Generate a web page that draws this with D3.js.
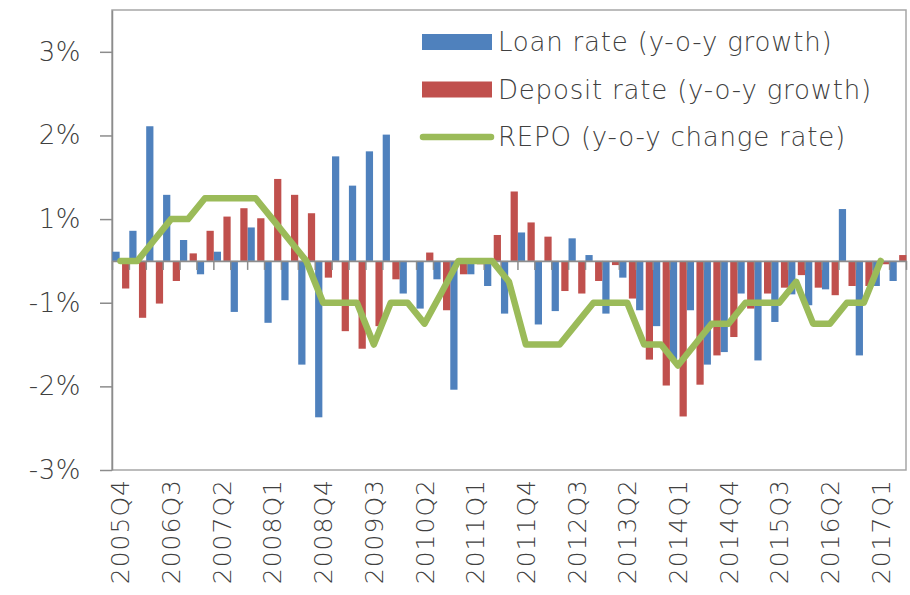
<!DOCTYPE html>
<html>
<head>
<meta charset="utf-8">
<script src="https://cdn.jsdelivr.net/npm/d3@7"></script>
<style>
  body { margin: 0; background: #fff; }
  text { font-family: "DejaVu Sans", sans-serif; font-weight: 200; fill: #404040; }
</style>
</head>
<body>
<script>
var w = 910;
var h = 595;

//quarters on the category axis
var quarters = [
  "2005Q4",
  "2006Q1","2006Q2","2006Q3","2006Q4",
  "2007Q1","2007Q2","2007Q3","2007Q4",
  "2008Q1","2008Q2","2008Q3","2008Q4",
  "2009Q1","2009Q2","2009Q3","2009Q4",
  "2010Q1","2010Q2","2010Q3","2010Q4",
  "2011Q1","2011Q2","2011Q3","2011Q4",
  "2012Q1","2012Q2","2012Q3","2012Q4",
  "2013Q1","2013Q2","2013Q3","2013Q4",
  "2014Q1","2014Q2","2014Q3","2014Q4",
  "2015Q1","2015Q2","2015Q3","2015Q4",
  "2016Q1","2016Q2","2016Q3","2016Q4",
  "2017Q1","2017Q2"
];

//labels shown under the chart (every third quarter)
var xTickLabels = ["2005Q4","2006Q3","2007Q2","2008Q1","2008Q4","2009Q3","2010Q2","2011Q1",
                   "2011Q4","2012Q3","2013Q2","2014Q1","2014Q4","2015Q3","2016Q2","2017Q1"];

//loan rate, y-o-y growth (percentage points)
var loanRate = [
  0.11,
  0.36, 1.61, 0.79, 0.25,
  -0.16, 0.11, -0.61, 0.40,
  -0.74, -0.47, -1.24, -1.87,
  1.25, 0.90, 1.31, 1.51,
  -0.39, -0.57, -0.22, -1.54,
  -0.16, -0.30, -0.63, 0.34,
  -0.76, -0.60, 0.27, 0.07,
  -0.63, -0.20, -0.59, -0.78,
  -1.18, -0.59, -1.24, -1.09,
  -0.39, -1.19, -0.73, -0.40,
  -0.53, -0.34, 0.62, -1.13,
  -0.30, -0.24
];

//deposit rate, y-o-y growth
var depositRate = [
  -0.33,
  -0.68, -0.51, -0.24, 0.09,
  0.36, 0.53, 0.63, 0.51,
  0.98, 0.79, 0.57, -0.20,
  -0.84, -1.05, -0.78, -0.22,
  0.00, 0.10, -0.59, -0.16,
  -0.04, 0.31, 0.83, 0.46,
  0.29, -0.36, -0.39, -0.24,
  -0.05, -0.45, -1.18, -1.49,
  -1.86, -1.48, -1.13, -0.91,
  -0.57, -0.39, -0.32, -0.17,
  -0.32, -0.41, -0.30, -0.30,
  -0.04, 0.07
];

//REPO, y-o-y change (no value for the last quarter)
var repoRate = [
  0,
  0, 0.25, 0.5, 0.5,
  0.75, 0.75, 0.75, 0.75,
  0.5, 0.25, 0, -0.5,
  -0.5, -0.5, -1.0, -0.5,
  -0.5, -0.75, -0.38, 0,
  0, 0, -0.25, -1.0,
  -1.0, -1.0, -0.75, -0.5,
  -0.5, -0.5, -1.0, -1.0,
  -1.25, -1.0, -0.75, -0.75,
  -0.5, -0.5, -0.5, -0.25,
  -0.75, -0.75, -0.5, -0.5,
  0, null
];

//value axis: ticks sit on half percents, labels are rounded like the original
var yTicks = [-2.5, -1.5, -0.5, 0.5, 1.5, 2.5];
var yTickLabels = ["-3%", "-2%", "-1%", "1%", "2%", "3%"];

var seriesNames = ["Loan rate (y-o-y growth)", "Deposit rate (y-o-y growth)", "REPO (y-o-y change rate)"];
var colors = ["#4f81bd", "#c0504d", "#9bbb59"];

var plotLeft = 112, plotRight = 906, plotTop = 10, plotBottom = 470;

var x = d3.scaleBand()
          .domain(quarters)
          .range([plotLeft, plotRight])
          .padding(0);

var bw = x.bandwidth();

var x1 = d3.scaleBand()
           .domain(["loan", "deposit"])
           .range([0.4, bw + 0.4])
           .paddingInner(0.25)
           .paddingOuter(0);

//boundaries between quarters, for the small ticks on the zero line
var xEdge = d3.scaleLinear()
              .domain([0, quarters.length])
              .range([plotLeft, plotRight]);

var y = d3.scaleLinear()
          .domain([-2.5, 3])
          .range([plotBottom, plotTop]);

//Create SVG element
var svg = d3.select("body")
            .append("svg")
            .attr("width", w)
            .attr("height", h);

svg.append("rect")
   .attr("width", w)
   .attr("height", h)
   .attr("fill", "#fff");

//plot frame
svg.append("rect")
   .attr("x", plotLeft)
   .attr("y", plotTop)
   .attr("width", plotRight - plotLeft)
   .attr("height", plotBottom - plotTop)
   .attr("fill", "none")
   .style("stroke", "#a6a6a6")
   .style("stroke-width", 1.5);

//value axis
var yAxis = svg.append("g")
               .attr("transform", "translate(" + plotLeft + ",0)")
               .call(d3.axisLeft(y)
                       .tickValues(yTicks)
                       .tickFormat(function(d, i) { return yTickLabels[i]; })
                       .tickSize(12)
                       .tickSizeOuter(0)
                       .tickPadding(19));

yAxis.select(".domain").style("stroke", "#8c8c8c").style("stroke-width", 1.5);
yAxis.selectAll(".tick line").style("stroke", "#8c8c8c").style("stroke-width", 1.5);
yAxis.selectAll("text")
     .style("font-size", "26px")
     .style("letter-spacing", "0.5px")
     .attr("fill", "#404040");

//loan bars
svg.selectAll("rect.loan")
   .data(loanRate)
   .enter()
   .append("rect")
   .attr("class", "loan")
   .attr("x", function(d, i) { return x(quarters[i]) + x1("loan"); })
   .attr("width", x1.bandwidth())
   .attr("y", function(d) { return Math.min(y(d), y(0)); })
   .attr("height", function(d) { return Math.abs(y(d) - y(0)); })
   .style("fill", colors[0]);

//deposit bars
svg.selectAll("rect.deposit")
   .data(depositRate)
   .enter()
   .append("rect")
   .attr("class", "deposit")
   .attr("x", function(d, i) { return x(quarters[i]) + x1("deposit"); })
   .attr("width", x1.bandwidth())
   .attr("y", function(d) { return Math.min(y(d), y(0)); })
   .attr("height", function(d) { return Math.abs(y(d) - y(0)); })
   .style("fill", colors[1]);

//category axis on the zero line
var zeroAxis = svg.append("g")
                  .attr("transform", "translate(0," + y(0) + ")")
                  .call(d3.axisBottom(xEdge)
                          .tickValues(d3.range(quarters.length + 1))
                          .tickFormat("")
                          .tickSize(9)
                          .tickSizeOuter(0));

zeroAxis.select(".domain").style("stroke", "#8c8c8c").style("stroke-width", 1.8);
zeroAxis.selectAll(".tick line").style("stroke", "#8c8c8c").style("stroke-width", 1.5);

//REPO line
var line = d3.line()
             .defined(function(d) { return d != null; })
             .x(function(d, i) { return x(quarters[i]) + bw / 2; })
             .y(function(d) { return y(d); });

svg.append("path")
   .datum(repoRate)
   .attr("d", line)
   .attr("fill", "none")
   .style("stroke", colors[2])
   .style("stroke-width", 6.5)
   .style("stroke-linejoin", "round")
   .style("stroke-linecap", "round");

//quarter labels under the plot
var xAxis = svg.append("g")
               .attr("transform", "translate(0," + plotBottom + ")")
               .call(d3.axisBottom(x)
                       .tickValues(xTickLabels)
                       .tickSize(0)
                       .tickSizeOuter(0));

xAxis.select(".domain").remove();
xAxis.selectAll("text")
     .attr("transform", "rotate(-90)")
     .attr("x", -9)
     .attr("y", 0)
     .attr("dy", "0.36em")
     .style("text-anchor", "end")
     .style("font-size", "25px")
     .style("letter-spacing", "1px")
     .attr("fill", "#404040");

//legend
var legend = svg.append("g")
                .attr("transform", "translate(422,42)");

var rows = legend.selectAll("g")
                 .data(seriesNames)
                 .enter()
                 .append("g")
                 .attr("transform", function(d, i) { return "translate(0," + (i * 47.5) + ")"; });

rows.filter(function(d, i) { return i < 2; })
    .append("rect")
    .attr("x", 0)
    .attr("y", -8)
    .attr("width", 70)
    .attr("height", 16)
    .style("fill", function(d, i) { return colors[i]; });

rows.filter(function(d, i) { return i == 2; })
    .append("line")
    .attr("x1", 1)
    .attr("x2", 69)
    .style("stroke", colors[2])
    .style("stroke-width", 6.5)
    .style("stroke-linecap", "round");

rows.append("text")
    .attr("x", 76)
    .attr("dy", "0.35em")
    .style("font-size", "26px")
    .style("letter-spacing", "0.8px")
    .attr("fill", "#333")
    .text(function(d) { return d; });
</script>
</body>
</html>
